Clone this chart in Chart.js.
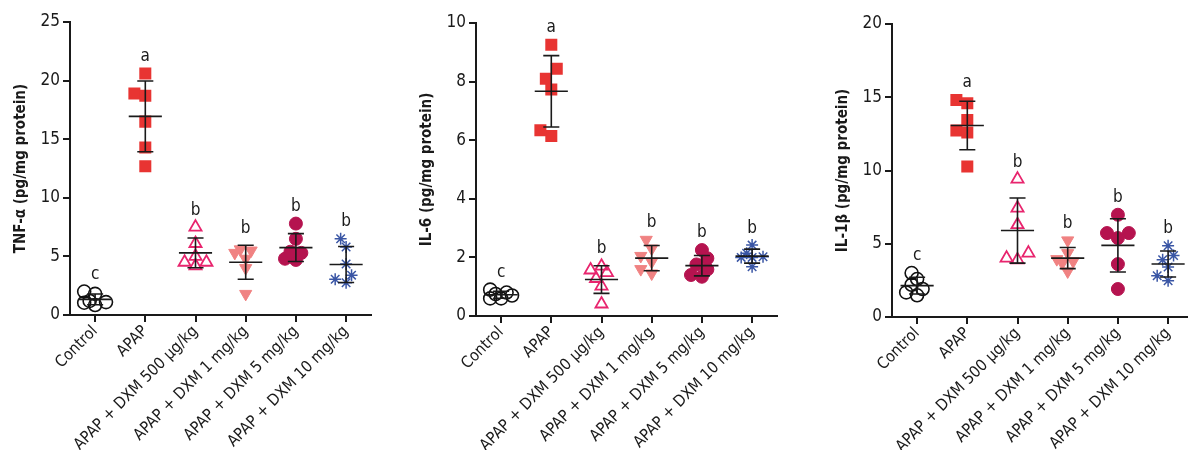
<!DOCTYPE html>
<html>
<head>
<meta charset="utf-8">
<script src="https://cdn.jsdelivr.net/npm/chart.js@4.4.1/dist/chart.umd.min.js"></script>
<style>
    html, body { margin: 0; padding: 0; background: #fff; width: 1188px; height: 450px; overflow: hidden; }
    .panel { position: absolute; top: 0; width: 380px; height: 450px; }
</style>
</head>
<body>
<div class="panel" style="left:0"><canvas id="tnfChart" width="380" height="450"></canvas></div>
<div class="panel" style="left:406px"><canvas id="il6Chart" width="380" height="450"></canvas></div>
<div class="panel" style="left:822px"><canvas id="il1bChart" width="380" height="450"></canvas></div>
<script>
const groups = ['Control', 'APAP', 'APAP + DXM 500 µg/kg', 'APAP + DXM 1 mg/kg', 'APAP + DXM 5 mg/kg', 'APAP + DXM 10 mg/kg'];
const letters = ['c', 'a', 'b', 'b', 'b', 'b'];

// one row per group, six animals each
const tnfValues = [
    [1.1, 1.05, 0.85, 1.8, 2.0, 1.2],
    [20.6, 18.9, 18.7, 16.5, 14.3, 12.7],
    [7.5, 6.1, 5.0, 4.2, 4.5, 4.5],
    [5.6, 5.5, 5.3, 4.8, 4.0, 1.8],
    [7.8, 6.5, 4.7, 4.8, 5.3, 5.4],
    [6.5, 5.8, 4.35, 3.4, 2.75, 3.05]
];
const il6Values = [
    [0.6, 0.9, 0.8, 0.75, 0.6, 0.7],
    [9.26, 8.44, 8.1, 7.73, 6.14, 6.34],
    [1.48, 1.57, 1.7, 1.28, 1.02, 0.41],
    [2.3, 2.6, 2.05, 1.85, 1.45, 1.6],
    [2.25, 1.97, 1.76, 1.59, 1.34, 1.4],
    [2.42, 2.14, 2.02, 2.0, 2.0, 1.68]
];
const il1bValues = [
    [1.48, 1.68, 1.91, 2.2, 2.59, 3.0],
    [14.82, 14.59, 13.45, 12.73, 12.59, 10.27],
    [9.41, 7.43, 6.3, 4.36, 3.9, 4.02],
    [5.23, 4.36, 3.95, 3.68, 3.8, 3.11],
    [6.98, 5.73, 5.73, 5.39, 3.61, 1.91],
    [4.86, 4.2, 3.91, 3.41, 2.82, 2.48]
];

const FONT = "'DejaVu Sans Condensed', 'Liberation Sans Narrow', sans-serif";
const INK = '#1a1a1a';

const markers = [
    { pointStyle: 'circle', radius: 6.5, backgroundColor: 'rgba(0,0,0,0)', borderColor: '#111', borderWidth: 1.6 },
    { pointStyle: 'rect', radius: 8.5, backgroundColor: '#e83432', borderColor: '#e83432', borderWidth: 0 },
    { pointStyle: 'triangle', radius: 7, backgroundColor: 'rgba(0,0,0,0)', borderColor: '#e8256e', borderWidth: 1.8 },
    { pointStyle: 'triangle', rotation: 180, radius: 7, backgroundColor: '#f08282', borderColor: '#f08282', borderWidth: 1 },
    { pointStyle: 'circle', radius: 6.5, backgroundColor: '#b5134f', borderColor: '#b5134f', borderWidth: 1 },
    { pointStyle: 'star', radius: 6, backgroundColor: '#3a56a5', borderColor: '#3a56a5', borderWidth: 1.5 }
];
// how close (px) two markers of a group may sit before they get nudged apart
const swarmGap = [7.5, 11.5, 9, 9, 8.5, 9];

// small beeswarm: nudge overlapping points sideways, at most two half-steps each way
function swarm(vals, yMax, thr) {
    const pxY = 293 / yMax, pxX = 50.6, step = 5.5;
    const order = vals.map((v, i) => i).sort((a, b) => vals[a] - vals[b]);
    const offPx = new Array(vals.length).fill(0);
    const placed = [];
    order.forEach(i => {
        let best = 0, bestDist = -1;
        for (const k of [0, -1, 1, -2, 2]) {
            const dist = Math.min(Infinity, ...placed.map(j => Math.hypot(k * step - offPx[j], (vals[i] - vals[j]) * pxY)));
            if (dist >= thr) { best = k; break; }
            if (dist > bestDist) { bestDist = dist; best = k; }
        }
        offPx[i] = best * step;
        placed.push(i);
    });
    return offPx.map(p => p / pxX);
}

function meanSd(arr) {
    const m = arr.reduce((a, b) => a + b, 0) / arr.length;
    const v = arr.reduce((a, b) => a + (b - m) * (b - m), 0) / (arr.length - 1);
    return [m, Math.sqrt(v)];
}

// mean line, SD whiskers and significance letters
const meanSdPlugin = {
    id: 'meanSd',
    afterDatasetsDraw(chart) {
        const { ctx, scales: { x, y } } = chart;
        ctx.save();
        ctx.strokeStyle = INK;
        ctx.lineWidth = 1.6;
        chart.data.datasets.forEach((ds, i) => {
            const ys = ds.data.map(p => p.y);
            const [m, sd] = meanSd(ys);
            const ym = y.getPixelForValue(m), yt = y.getPixelForValue(m + sd), yb = y.getPixelForValue(m - sd);
            ctx.beginPath();
            ctx.moveTo(x.getPixelForValue(i - 0.33), ym);
            ctx.lineTo(x.getPixelForValue(i + 0.33), ym);
            ctx.moveTo(x.getPixelForValue(i), yt);
            ctx.lineTo(x.getPixelForValue(i), yb);
            ctx.moveTo(x.getPixelForValue(i - 0.16), yt);
            ctx.lineTo(x.getPixelForValue(i + 0.16), yt);
            ctx.moveTo(x.getPixelForValue(i - 0.16), yb);
            ctx.lineTo(x.getPixelForValue(i + 0.16), yb);
            ctx.stroke();
            const top = Math.min(yt, y.getPixelForValue(Math.max(...ys)));
            ctx.fillStyle = INK;
            ctx.font = '17px ' + FONT;
            ctx.textAlign = 'center';
            ctx.textBaseline = 'middle';
            ctx.fillText(letters[i], x.getPixelForValue(i), top - 17);
        });
        ctx.restore();
    }
};

function makeChart(id, values, yMax, step, title, topPad, xHeight) {
    const datasets = values.map((vals, i) => {
        const off = swarm(vals, yMax, swarmGap[i]);
        return Object.assign({
            label: groups[i],
            data: vals.map((v, j) => ({ x: i + off[j], y: v }))
        }, markers[i]);
    });
    return new Chart(document.getElementById(id).getContext('2d'), {
        type: 'scatter',
        data: { datasets },
        options: {
            responsive: false,
            animation: false,
            layout: { padding: { top: topPad, right: 6, bottom: 0, left: 0 } },
            plugins: { legend: { display: false }, tooltip: { enabled: false } },
            scales: {
                x: {
                    type: 'linear',
                    min: -0.5,
                    max: 5.5,
                    afterBuildTicks: s => { s.ticks = groups.map((g, i) => ({ value: i })); },
                    afterFit: s => { s.height = xHeight; },
                    ticks: {
                        autoSkip: false,
                        minRotation: 45,
                        maxRotation: 45,
                        padding: 0,
                        color: INK,
                        font: { family: FONT, size: 16 },
                        callback: v => groups[v]
                    },
                    grid: { drawOnChartArea: false, drawTicks: true, tickLength: 7, color: INK, lineWidth: 2 },
                    border: { display: true, color: INK, width: 2 }
                },
                y: {
                    min: 0,
                    max: yMax,
                    afterFit: s => { s.width = 70; },
                    ticks: { stepSize: step, padding: 3, color: INK, font: { family: FONT, size: 17 } },
                    grid: { drawOnChartArea: false, drawTicks: true, tickLength: 7, color: INK, lineWidth: 2 },
                    border: { display: true, color: INK, width: 2 },
                    title: {
                        display: true,
                        text: title,
                        color: INK,
                        font: { family: FONT, size: 15, weight: 'bold' },
                        padding: { top: 12, bottom: 2 }
                    }
                }
            }
        },
        plugins: [meanSdPlugin]
    });
}

window.onload = function () {
    makeChart('tnfChart', tnfValues, 25, 5, 'TNF-α (pg/mg protein)', 22, 135);
    makeChart('il6Chart', il6Values, 10, 2, 'IL-6 (pg/mg protein)', 23, 134);
    makeChart('il1bChart', il1bValues, 20, 5, 'IL-1β (pg/mg protein)', 24, 133);
};
</script>
</body>
</html>
